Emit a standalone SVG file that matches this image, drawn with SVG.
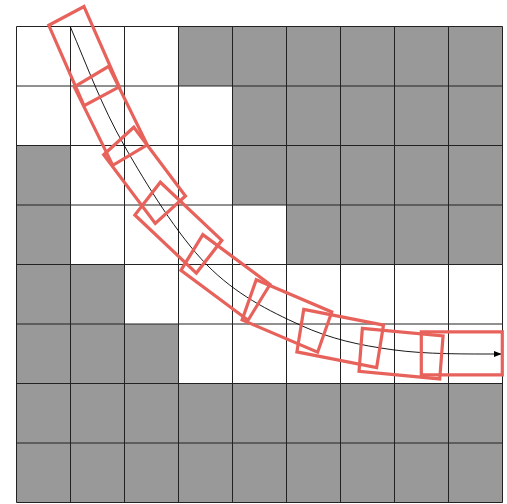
<svg xmlns="http://www.w3.org/2000/svg" width="507" height="504" viewBox="0 0 507 504">
  <style>
    .bg { fill: #ffffff; }
    .gray { fill: #999999; }
    .gl { stroke: #222222; stroke-width: 1; fill: none; }
    .fp { fill: none; stroke: #e8625c; stroke-width: 3.2; vector-effect: non-scaling-stroke; }
    .path { fill: none; stroke: #000000; stroke-width: 0.9; }
  </style>
  <defs>
    <marker id="arrow" viewBox="0 0 8 6" refX="8" refY="3" markerWidth="8" markerHeight="6" markerUnits="userSpaceOnUse" orient="auto">
      <path d="M0,0 L8,3 L0,6 z" fill="#000000"/>
    </marker>
  </defs>
  <rect class="bg" x="0" y="0" width="507" height="504"/>
  <g id="grid">
    <g id="cells">
      <rect class="gray" x="178.5" y="26.5" width="324" height="59.5"/>
      <rect class="gray" x="232.5" y="86" width="270" height="59.5"/>
      <rect class="gray" x="16.5" y="145.5" width="54" height="59.5"/>
      <rect class="gray" x="232.5" y="145.5" width="270" height="59.5"/>
      <rect class="gray" x="16.5" y="205" width="54" height="59.5"/>
      <rect class="gray" x="286.5" y="205" width="216" height="59.5"/>
      <rect class="gray" x="16.5" y="264.5" width="108" height="59.5"/>
      <rect class="gray" x="16.5" y="324" width="162" height="59.5"/>
      <rect class="gray" x="16.5" y="383.5" width="486" height="119"/>
    </g>
    <g id="lines" class="gl">
      <path d="M16.5,26.5V502.5 M70.5,26.5V502.5 M124.5,26.5V502.5 M178.5,26.5V502.5 M232.5,26.5V502.5 M286.5,26.5V502.5 M340.5,26.5V502.5 M394.5,26.5V502.5 M448.5,26.5V502.5 M502.5,26.5V502.5"/>
      <path d="M16.5,26.5H502.5 M16.5,86H502.5 M16.5,145.5H502.5 M16.5,205H502.5 M16.5,264.5H502.5 M16.5,324H502.5 M16.5,383.5H502.5 M16.5,443H502.5 M16.5,502.5H502.5"/>
    </g>
  </g>
  <g id="connectors">
    <path id="trajectory" class="path" marker-end="url(#arrow)" d="M70.3,26.7 C87,65.7 101.6,106 124.3,145.7 C147,185.4 177.4,234.8 206.7,264.7 C236,294.6 268.95,310.8 300,325 C331.05,339.2 359.4,345.2 393,349.8 C426.6,354.4 465.5,354 501.7,354"/>
  </g>
  <g id="footprints" transform="translate(16.3,26.7) scale(54,59.5)">
    <g id="pose1"><rect class="fp" x="-0.75" y="-0.3625" width="1.5" height="0.725" transform="translate(1.254,0.494) rotate(64.2)"/></g>
    <g id="pose2"><rect class="fp" x="-0.75" y="-0.3625" width="1.5" height="0.725" transform="translate(1.749,1.498) rotate(61.6)"/></g>
    <g id="pose3"><rect class="fp" x="-0.75" y="-0.3625" width="1.5" height="0.725" transform="translate(2.375,2.498) rotate(50.4)"/></g>
    <g id="pose4"><rect class="fp" x="-0.75" y="-0.3625" width="1.5" height="0.725" transform="translate(3.001,3.377) rotate(40.6)"/></g>
    <g id="pose5"><rect class="fp" x="-0.75" y="-0.3625" width="1.5" height="0.725" transform="translate(3.873,4.214) rotate(34)"/></g>
    <g id="pose6"><rect class="fp" x="-0.75" y="-0.3625" width="1.5" height="0.725" transform="translate(5.012,4.861) rotate(21.2)"/></g>
    <g id="pose7"><rect class="fp" x="-0.75" y="-0.3625" width="1.5" height="0.725" transform="translate(5.998,5.24) rotate(10.1)"/></g>
    <g id="pose8"><rect class="fp" x="-0.75" y="-0.3625" width="1.5" height="0.725" transform="translate(7.125,5.495) rotate(4.9)"/></g>
    <g id="pose9"><rect class="fp" x="-0.75" y="-0.3625" width="1.5" height="0.725" transform="translate(8.25,5.49) rotate(0)"/></g>
  </g>
</svg>
